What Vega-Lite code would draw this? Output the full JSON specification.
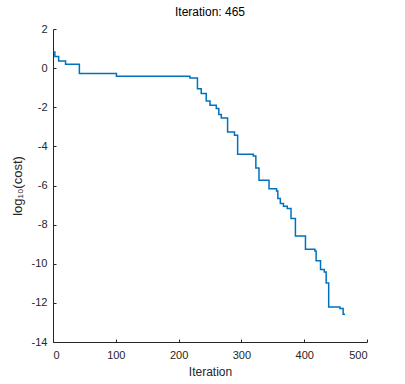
{
  "$schema": "https://vega.github.io/schema/vega-lite/v6.json",
  "autosize": {"type": "none"},
  "padding": {"left": 53, "top": 29, "right": 38, "bottom": 42},
  "width": 314,
  "height": 313,
  "background": "white",
  "title": {"text": "Iteration: 465", "fontSize": 12, "fontWeight": "normal", "font": "Liberation Sans", "color": "#000000", "anchor": "middle", "offset": 4},
  "config": {"view": {"stroke": null}},
  "data": {"values": [
    {"iter": 1, "cost": 0.82},
    {"iter": 3, "cost": 0.6},
    {"iter": 9, "cost": 0.37},
    {"iter": 20, "cost": 0.2},
    {"iter": 42, "cost": -0.27},
    {"iter": 101, "cost": -0.42},
    {"iter": 218, "cost": -0.5},
    {"iter": 230, "cost": -1.05},
    {"iter": 236, "cost": -1.3},
    {"iter": 244, "cost": -1.68},
    {"iter": 250, "cost": -1.9},
    {"iter": 260, "cost": -2.07},
    {"iter": 264, "cost": -2.37},
    {"iter": 268, "cost": -2.55},
    {"iter": 278, "cost": -3.26},
    {"iter": 289, "cost": -3.43},
    {"iter": 294, "cost": -4.4},
    {"iter": 319, "cost": -4.49},
    {"iter": 323, "cost": -5.1},
    {"iter": 328, "cost": -5.73},
    {"iter": 344, "cost": -6.16},
    {"iter": 356, "cost": -6.28},
    {"iter": 358, "cost": -6.67},
    {"iter": 362, "cost": -6.92},
    {"iter": 367, "cost": -7.06},
    {"iter": 373, "cost": -7.18},
    {"iter": 379, "cost": -7.69},
    {"iter": 386, "cost": -8.58},
    {"iter": 402, "cost": -9.26},
    {"iter": 417, "cost": -9.35},
    {"iter": 419, "cost": -9.85},
    {"iter": 426, "cost": -10.3},
    {"iter": 432, "cost": -10.42},
    {"iter": 435, "cost": -10.98},
    {"iter": 439, "cost": -12.21},
    {"iter": 457, "cost": -12.29},
    {"iter": 462, "cost": -12.58},
    {"iter": 465, "cost": -12.58}
  ]},
  "mark": {"type": "line", "interpolate": "step-after", "color": "#0072BD", "strokeWidth": 1.5},
  "encoding": {
    "x": {"field": "iter", "type": "quantitative",
      "scale": {"domain": [0, 500], "nice": false, "zero": false},
      "axis": {"title": "Iteration", "values": [0, 100, 200, 300, 400, 500], "grid": false,
        "labelExpr": "'' + datum.value",
        "tickSize": -3, "labelPadding": 10, "titlePadding": 6,
        "domainColor": "#262626", "tickColor": "#262626", "labelColor": "#262626", "titleColor": "#262626",
        "labelFont": "Liberation Sans", "titleFont": "Liberation Sans", "labelFontSize": 11, "titleFontSize": 12, "titleFontWeight": "normal"}},
    "y": {"field": "cost", "type": "quantitative",
      "scale": {"domain": [-14, 2], "nice": false, "zero": false},
      "axis": {"title": "log₁₀(cost)", "values": [-14, -12, -10, -8, -6, -4, -2, 0, 2], "grid": false,
        "labelExpr": "'' + datum.value",
        "tickSize": -3, "labelPadding": 9, "titlePadding": 7,
        "domainColor": "#262626", "tickColor": "#262626", "labelColor": "#262626", "titleColor": "#262626",
        "labelFont": "Liberation Sans", "titleFont": "Liberation Sans", "labelFontSize": 11, "titleFontSize": 13, "titleFontWeight": "normal"}}
  }
}
